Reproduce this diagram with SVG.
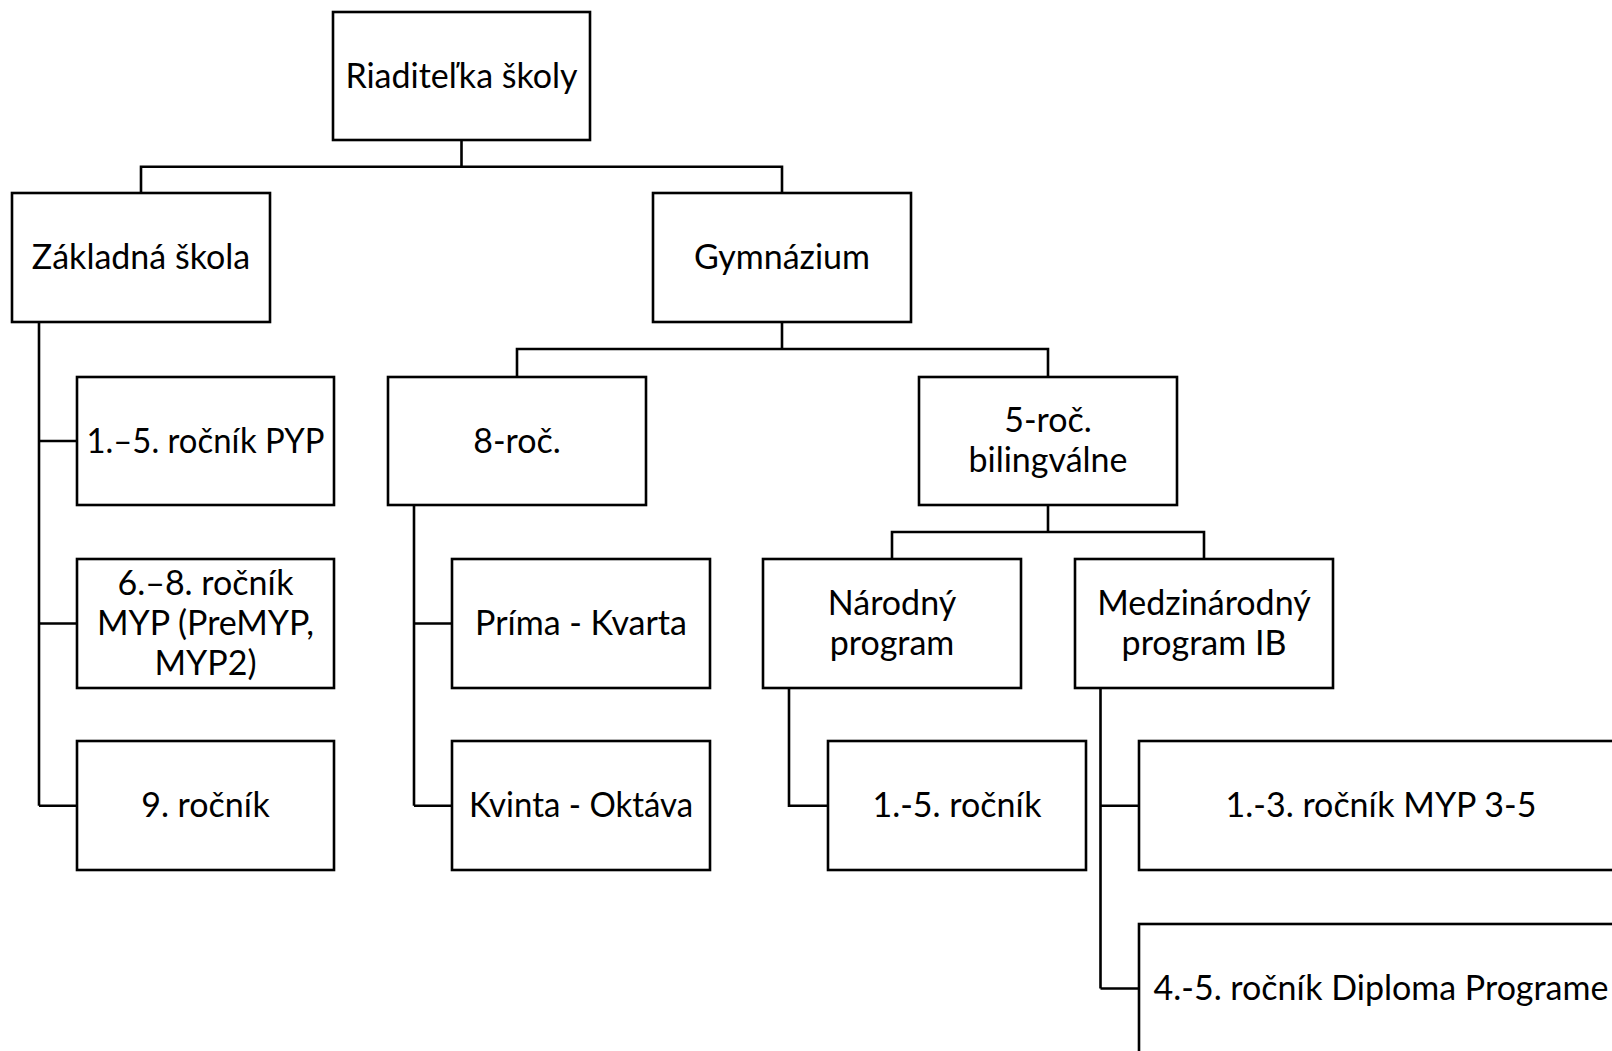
<svg xmlns="http://www.w3.org/2000/svg" width="1612" height="1051" viewBox="0 0 1612 1051">
<style>
.box{fill:#fff;stroke:#000;stroke-width:2.6}
.c{fill:none;stroke:#000;stroke-width:2.6}
text{font-family:Lato,"Liberation Sans",sans-serif;font-size:34px;fill:#000;text-anchor:middle}
</style>
<rect width="1612" height="1051" fill="#fff"/>
<g id="connectors">
<path class="c" d="M461.5 140V166.7M141 193V166.7H782V193"/>
<path class="c" d="M39 322V805.7M39 441H77M39 623.5H77M39 805.7H77"/>
<path class="c" d="M782 322V349M517 377V349H1048V377"/>
<path class="c" d="M414 505V805.7M414 623.5H452M414 805.7H452"/>
<path class="c" d="M1048 505V532M892 559V532H1204V559"/>
<path class="c" d="M789 688V805.7H828"/>
<path class="c" d="M1100.5 688V988.5M1100.5 805.7H1139M1100.5 988.5H1139"/>
</g>
<g id="n-root"><rect class="box" x="333" y="12" width="257" height="128"/><text x="461.5" y="88">Riaditeľka školy</text></g>
<g id="n-zakladna"><rect class="box" x="12" y="193" width="258" height="129"/><text x="141" y="269">Základná škola</text></g>
<g id="n-gymnazium"><rect class="box" x="653" y="193" width="258" height="129"/><text x="782" y="269">Gymnázium</text></g>
<g id="n-pyp"><rect class="box" x="77" y="377" width="257" height="128"/><text x="205.5" y="453" textLength="238" lengthAdjust="spacingAndGlyphs">1.–5. ročník PYP</text></g>
<g id="n-8roc"><rect class="box" x="388" y="377" width="258" height="128"/><text x="517" y="453">8-roč.</text></g>
<g id="n-5roc"><rect class="box" x="919" y="377" width="258" height="128"/><text x="1048" y="432">5-roč.</text><text x="1048" y="472">bilingválne</text></g>
<g id="n-myp68"><rect class="box" x="77" y="559" width="257" height="129"/><text x="205.5" y="595">6.–8. ročník</text><text x="205.5" y="635">MYP (PreMYP,</text><text x="205.5" y="675">MYP2)</text></g>
<g id="n-prima"><rect class="box" x="452" y="559" width="258" height="129"/><text x="581" y="635">Príma - Kvarta</text></g>
<g id="n-narodny"><rect class="box" x="763" y="559" width="258" height="129"/><text x="892" y="615">Národný</text><text x="892" y="655">program</text></g>
<g id="n-medz"><rect class="box" x="1075" y="559" width="258" height="129"/><text x="1204" y="615">Medzinárodný</text><text x="1204" y="655">program IB</text></g>
<g id="n-9roc"><rect class="box" x="77" y="741" width="257" height="129"/><text x="205.5" y="817">9. ročník</text></g>
<g id="n-kvinta"><rect class="box" x="452" y="741" width="258" height="129"/><text x="581" y="817" textLength="224" lengthAdjust="spacingAndGlyphs">Kvinta - Oktáva</text></g>
<g id="n-nar15"><rect class="box" x="828" y="741" width="258" height="129"/><text x="957" y="817">1.-5. ročník</text></g>
<g id="n-myp35"><rect class="box" x="1139" y="741" width="484" height="129"/><text x="1381" y="817">1.-3. ročník MYP 3-5</text></g>
<g id="n-dp"><rect class="box" x="1139" y="924" width="484" height="140"/><text x="1381" y="1000">4.-5. ročník Diploma Programe</text></g>
</svg>
